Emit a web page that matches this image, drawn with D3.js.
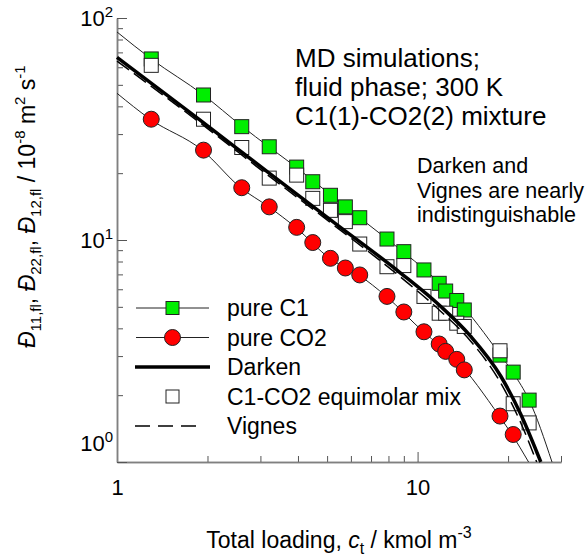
<!DOCTYPE html>
<html>
<head>
<meta charset="utf-8">
<script src="https://cdn.jsdelivr.net/npm/d3@7"></script>
<style>
  body { margin: 0; background: #fff; }
  text { font-family: "Liberation Sans", Arial, sans-serif; fill: #000; }
</style>
</head>
<body>
<div id="chart"></div>
<script>
// loadings, kmol m^-3
const loading = [1.30, 1.94, 2.60, 3.21, 3.96, 4.48, 5.13, 5.75, 6.42, 7.91, 9.00, 10.5, 11.8, 12.4, 13.5, 14.3, 18.8, 20.8, 23.5];
const pureC1 = [65.4, 45.0, 32.4, 26.3, 21.3, 18.3, 15.9, 14.1, 12.6, 10.1, 8.86, 7.33, 6.38, 5.89, 5.34, 4.84, 3.03, 2.54, 1.90];
const pureCO2 = [35.0, 25.4, 17.2, 14.1, 11.4, 9.74, 8.27, 7.48, 6.96, 5.57, 4.74, 3.86, 3.40, 3.15, 2.90, 2.60, 1.61, 1.33];
const mixture = [61.2, 35.0, 26.1, 19.0, 19.6, 15.4, 13.6, 12.1, 9.59, 7.58, 7.67, 5.57, 4.68, 4.68, 4.22, 4.08, 3.17, 1.83, 1.50];

// thin fit curves through the pure component data
const c1FitX = [1, 1.30, 1.94, 2.60, 3.21, 3.96, 5.13, 6.42, 7.91, 10.5, 13.5, 18.8, 20.8, 23.5, 28.0];
const c1FitY = [86.5, 65.4, 45.0, 32.6, 26.2, 21.2, 16.0, 12.6, 10.1, 7.4, 5.4, 3.05, 2.52, 1.90, 1.0];
const co2FitX = [1, 1.29, 1.92, 2.58, 3.20, 3.93, 5.10, 6.37, 7.87, 10.45, 13.4, 18.7, 20.6, 23.4];
const co2FitY = [45.8, 35.0, 25.4, 17.2, 14.1, 11.4, 8.27, 6.96, 5.57, 3.86, 2.90, 1.61, 1.33, 1.0];

// model predictions
const darkenX = [1, 1.89, 3.24, 5.25, 8.78, 11.9, 15.0, 18.9, 22.0, 25.7];
const darkenY = [66.5, 34.7, 19.8, 12.05, 7.10, 5.04, 3.69, 2.44, 1.65, 1.0];
const vignesX = [1, 1.89, 3.24, 5.25, 8.78, 11.9, 15.0, 18.9, 22.0, 24.9];
const vignesY = [64.0, 33.7, 19.2, 11.7, 6.81, 4.79, 3.51, 2.27, 1.51, 1.0];

const xMajor = [1, 10];
const yMajor = [1, 10, 100];

const legendItems = ["pure C1", "pure CO2", "Darken", "C1-CO2 equimolar mix", "Vignes"];
const noteLines = ["MD simulations;", "fluid phase; 300 K", "C1(1)-CO2(2) mixture"];
const note2Lines = ["Darken and", "Vignes are nearly", "indistinguishable"];

const W = 588, H = 559;
const margin = {top: 18, right: 27, bottom: 97, left: 117};

const svg = d3.select("#chart").append("svg")
    .attr("width", W)
    .attr("height", H);

const x = d3.scaleLog().domain([1, 30]).range([margin.left, W - margin.right]);
const y = d3.scaleLog().domain([1, 100]).range([H - margin.bottom, margin.top]);

const green = "#00ee00", red = "#ff0000";
const sq = 14;

// axes
const xAxisG = svg.append("g").attr("transform", `translate(0,${y(1)})`);
xAxisG.call(d3.axisBottom(x).tickValues(x.ticks().filter(d => !xMajor.includes(d)))
    .tickSizeInner(-6).tickSizeOuter(0).tickFormat(""));
const xMajorG = xAxisG.append("g").call(d3.axisBottom(x).tickValues(xMajor)
    .tickSizeInner(-10).tickSizeOuter(0).tickPadding(17).tickFormat(d3.format("d")));

const yAxisG = svg.append("g").attr("transform", `translate(${x(1)},0)`);
yAxisG.call(d3.axisLeft(y).tickValues(y.ticks().filter(d => !yMajor.includes(d)))
    .tickSizeInner(-6).tickSizeOuter(0).tickFormat(""));
const yMajorG = yAxisG.append("g").call(d3.axisLeft(y).tickValues(yMajor)
    .tickSizeInner(-10).tickSizeOuter(0).tickPadding(4).tickFormat(""));

svg.selectAll(".domain").attr("stroke", "#808080").attr("stroke-width", 1.5);
svg.selectAll(".tick line").attr("stroke", "#555");
xMajorG.selectAll(".tick text").attr("font-size", 22).attr("fill", "#000");

yMajorG.selectAll(".tick text").each(function(d) {
    const t = d3.select(this);
    t.text("10").attr("font-size", 22).attr("fill", "#000")
        .attr("dy", null).attr("y", d === 1 ? -12 : 7);
    t.append("tspan").attr("dy", -9).attr("font-size", 15).text(Math.round(Math.log10(d)));
});

// lines
const line = d3.line().x(d => x(d[0])).y(d => y(d[1])).curve(d3.curveMonotoneX);
const zip = (a, b) => a.map((v, i) => [v, b[i]]);

svg.append("path").datum(zip(c1FitX, c1FitY))
    .attr("d", line).attr("fill", "none").attr("stroke", "#222").attr("stroke-width", 1);
svg.append("path").datum(zip(co2FitX, co2FitY))
    .attr("d", line).attr("fill", "none").attr("stroke", "#222").attr("stroke-width", 1);

// data points
svg.append("g").selectAll("rect")
    .data(zip(loading, pureC1))
    .join("rect")
    .attr("x", d => x(d[0]) - sq / 2).attr("y", d => y(d[1]) - sq / 2)
    .attr("width", sq).attr("height", sq)
    .attr("fill", green).attr("stroke", "#222").attr("stroke-width", 1);

svg.append("g").selectAll("circle")
    .data(zip(loading.slice(0, pureCO2.length), pureCO2))
    .join("circle")
    .attr("cx", d => x(d[0])).attr("cy", d => y(d[1])).attr("r", 8)
    .attr("fill", red).attr("stroke", "#222").attr("stroke-width", 1);

svg.append("g").selectAll("rect")
    .data(zip(loading, mixture))
    .join("rect")
    .attr("x", d => x(d[0]) - sq / 2).attr("y", d => y(d[1]) - sq / 2)
    .attr("width", sq).attr("height", sq)
    .attr("fill", "#fff").attr("stroke", "#222").attr("stroke-width", 1);

svg.append("path").datum(zip(darkenX, darkenY))
    .attr("d", line).attr("fill", "none").attr("stroke", "#000").attr("stroke-width", 3.5);
svg.append("path").datum(zip(vignesX, vignesY))
    .attr("d", line).attr("fill", "none").attr("stroke", "#000").attr("stroke-width", 1.5)
    .attr("stroke-dasharray", "15,6");

// legend
const lg = svg.append("g");
const row0 = 308, rowH = 29.5;
legendItems.forEach((name, i) => {
    const ry = row0 + i * rowH;
    const g = lg.append("g").attr("transform", `translate(0,${ry})`);
    if (i === 0 || i === 1) {
        g.append("line").attr("x1", 136).attr("x2", 209).attr("stroke", "#222").attr("stroke-width", 1);
    }
    if (i === 0) {
        g.append("rect").attr("x", 172.5 - 6.5).attr("y", -6.5).attr("width", 13).attr("height", 13)
            .attr("fill", green).attr("stroke", "#222");
    } else if (i === 1) {
        g.append("circle").attr("cx", 172.5).attr("r", 8).attr("fill", red).attr("stroke", "#222");
    } else if (i === 2) {
        g.append("line").attr("x1", 135).attr("x2", 210).attr("stroke", "#000").attr("stroke-width", 3.5);
    } else if (i === 3) {
        g.append("rect").attr("x", 172.5 - 6.5).attr("y", -6.5).attr("width", 13).attr("height", 13)
            .attr("fill", "#fff").attr("stroke", "#222");
    } else {
        g.append("line").attr("x1", 135).attr("x2", 204).attr("stroke", "#000").attr("stroke-width", 1.5)
            .attr("stroke-dasharray", "15,8");
    }
    g.append("text").attr("x", 227).attr("y", 8).attr("font-size", 23).text(name);
});

// annotations
svg.append("g").selectAll("text").data(noteLines).join("text")
    .attr("x", 295).attr("y", (d, i) => 67 + i * 29)
    .attr("font-size", 26).text(d => d);

svg.append("g").selectAll("text").data(note2Lines).join("text")
    .attr("x", 417).attr("y", (d, i) => 173 + i * 24.5)
    .attr("font-size", 21.5).text(d => d);

// axis titles
const xt = svg.append("text").attr("x", (x(1) + x(30)) / 2).attr("y", 548)
    .attr("text-anchor", "middle").attr("font-size", 23);
xt.append("tspan").text("Total loading, ");
xt.append("tspan").attr("font-style", "italic").text("c");
xt.append("tspan").attr("font-size", 16).attr("dy", 6).text("t");
xt.append("tspan").attr("dy", -6).text(" / kmol m");
xt.append("tspan").attr("font-size", 16).attr("dy", -10).text("-3");

const yt = svg.append("text").attr("transform", "translate(35,348) rotate(-90)")
    .attr("font-size", 23);
const parts = [
    {t: "Đ", s: "it"}, {t: "11,fl", s: "sub"}, {t: ", "},
    {t: "Đ", s: "it"}, {t: "22,fl", s: "sub"}, {t: ", "},
    {t: "Đ", s: "it"}, {t: "12,fl", s: "sub"}, {t: " / 10"},
    {t: "-8", s: "sup"}, {t: " m"}, {t: "2", s: "sup"}, {t: " s"}, {t: "-1", s: "sup"}
];
let shift = 0;
parts.forEach(p => {
    const target = p.s === "sub" ? 6 : p.s === "sup" ? -10 : 0;
    const ts = yt.append("tspan").attr("dy", target - shift).text(p.t);
    shift = target;
    if (p.s === "it") ts.attr("font-style", "italic");
    if (p.s === "sub" || p.s === "sup") ts.attr("font-size", 15);
});
</script>
</body>
</html>
